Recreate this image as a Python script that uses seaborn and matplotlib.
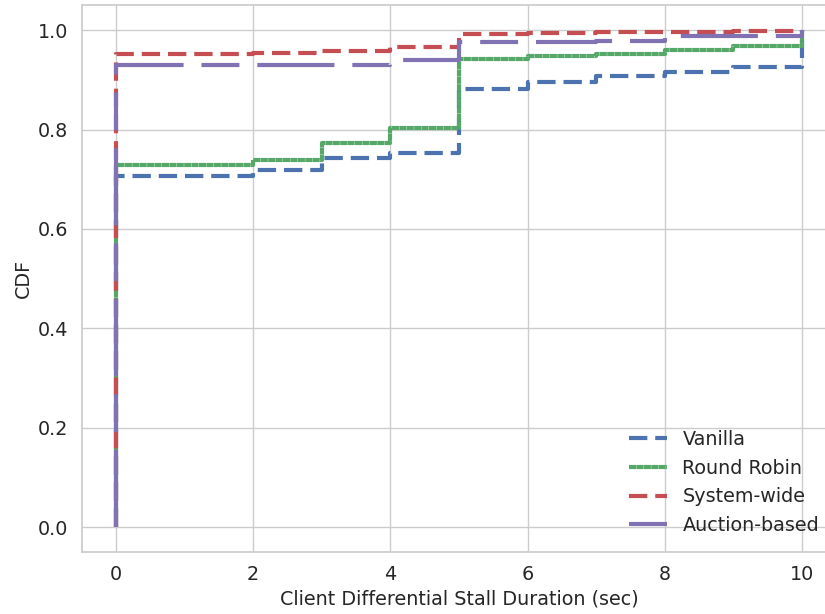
import matplotlib
matplotlib.use("Agg")
import matplotlib.pyplot as plt
import numpy as np
import pandas as pd
import seaborn as sns

# Stall durations (sec) where each CDF steps, and the CDF level after each step
durations = [0, 2, 3, 4, 5, 6, 7, 8, 9, 10]
vanilla = [0.706, 0.719, 0.742, 0.752, 0.881, 0.896, 0.908, 0.916, 0.926, 1.0]
round_robin = [0.728, 0.738, 0.772, 0.804, 0.941, 0.947, 0.951, 0.960, 0.968, 1.0]
system_wide = [0.952, 0.954, 0.958, 0.967, 0.993, 0.995, 0.996, 0.997, 0.998, 1.0]
auction_based = [0.929, 0.929, 0.930, 0.939, 0.976, 0.977, 0.978, 0.988, 0.989, 1.0]

methods = ["Vanilla", "Round Robin", "System-wide", "Auction-based"]
levels = [vanilla, round_robin, system_wide, auction_based]

sns.set_theme(style="whitegrid", context="notebook", font_scale=1.25)

rows = []
for name, cdf in zip(methods, levels):
    # every CDF starts at zero at the first duration
    rows.append((name, durations[0], 0.0))
    for d, c in zip(durations, cdf):
        rows.append((name, d, c))
df = pd.DataFrame(rows, columns=["method", "duration", "cdf"])

deep = sns.color_palette("deep")
palette = dict(zip(methods, [deep[0], deep[2], deep[3], deep[4]]))
dash_map = {
    "Vanilla": (4.4, 1.9),
    "Round Robin": (1.7, 0.08),
    "System-wide": (4.4, 1.9),
    "Auction-based": (18.5, 4.3, 9.1, 4.3),
}

fig = plt.figure(figsize=(8.25, 6.14), dpi=100)
ax = fig.add_axes([0.099, 0.101, 0.9147, 0.8904])

sns.lineplot(
    data=df, x="duration", y="cdf", hue="method", style="method",
    hue_order=methods, style_order=methods, palette=palette, dashes=dash_map,
    estimator=None, sort=False, drawstyle="steps-post", linewidth=3.0, ax=ax,
)

ax.set_xlim(-0.5, 10.5)
ax.set_ylim(-0.05, 1.05)
ax.set_xticks([0, 2, 4, 6, 8, 10])
ax.set_yticks([0.0, 0.2, 0.4, 0.6, 0.8, 1.0])
ax.set_xlabel("Client Differential Stall Duration (sec)", fontsize=13.75)
ax.set_ylabel("CDF", fontsize=13.75)

handles, labels = ax.get_legend_handles_labels()
ax.legend(handles, labels, loc="lower right", frameon=False, fontsize=13.75)

fig.savefig("out.png", dpi=100)
